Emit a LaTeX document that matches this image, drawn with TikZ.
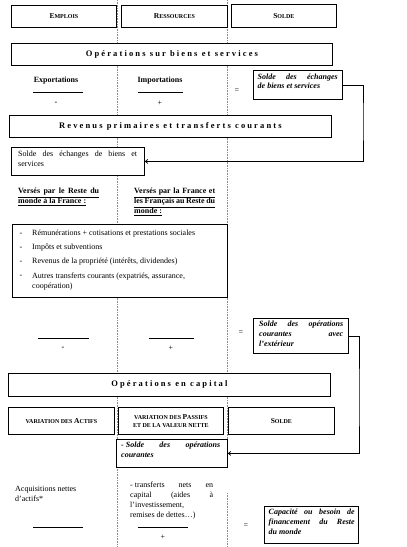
\documentclass[tikz,border=0pt]{standalone}
\usepackage{fontspec}
\setmainfont{Liberation Serif}
\usetikzlibrary{arrows.meta}
\newcommand\hdr[1]{{\fontsize{8.5}{10}\selectfont\bfseries\addfontfeature{LetterSpace=25}#1}}
\newcommand\capsm[1]{{\fontsize{6}{7}\selectfont #1}}
\newcommand\ulfull[1]{\underline{\makebox[81pt][s]{#1}}}
\tikzset{
  box/.style={draw, line width=0.8pt, fill=white, inner sep=0pt, anchor=north west},
  sep/.style={black!45, dash pattern=on 0.8pt off 0.8pt, line width=0.5pt},
  txt/.style={inner sep=0pt, font=\fontsize{8}{10}\selectfont},
  btxt/.style={inner sep=0pt, font=\fontsize{8}{10}\selectfont\bfseries},
  bitxt/.style={inner sep=0pt, font=\fontsize{8}{9.7}\selectfont\bfseries\itshape, align=justify},
  rule/.style={line width=0.7pt},
  conn/.style={line width=0.7pt},
  arr/.style={conn, -{Straight Barb[length=2.5pt,width=4pt]}},
  capt/.style={font=\fontsize{7.5}{8}\selectfont\bfseries, align=center}
}
\begin{document}
\begin{tikzpicture}[x=1pt,y=-1pt]
\useasboundingbox (0,0) rectangle (407,547);
% separators
\coordinate (s1t) at (117,0); \coordinate (s1b) at (117,547);
\coordinate (s2t) at (227,0); \coordinate (s2m) at (227,467);
\coordinate (s3t) at (227,493); \coordinate (s3b) at (227,547);
\draw[sep] (s1t) -- (s1b);
\draw[sep] (s2t) -- (s2m);
\draw[sep] (s3t) -- (s3b);
% top header boxes
\node[box, minimum width=105pt, minimum height=22.5pt, capt] (emp) at (11,4.5) {E\capsm{MPLOIS}};
\node[box, minimum width=106pt, minimum height=22.5pt, capt] (res) at (121,4.5) {R\capsm{ESSOURCES}};
\node[box, minimum width=105pt, minimum height=22.5pt, capt] (sol) at (231,4) {S\capsm{OLDE}};
% operations sur biens et services
\node[box, minimum width=321pt, minimum height=22pt] (obs) at (11,43) {\hdr{Opérations sur biens et services}};
\node[btxt] (ex) at (56,81) {Exportations};
\coordinate (exl) at (33,92); \coordinate (exr) at (83,92);
\draw[rule] (exl) -- (exr);
\node[btxt] (exm) at (56,103) {-};
\node[btxt] (im) at (160,81) {Importations};
\coordinate (iml) at (138,92); \coordinate (imr) at (183,92);
\draw[rule] (iml) -- (imr);
\node[txt] (imp) at (160,103) {+};
\node[txt] (eq1) at (237,91) {=};
\node[box, minimum width=89pt, minimum height=29pt] (sbs) at (253,70) {};
\node[bitxt, text width=80pt, anchor=north west] (sbst) at (257.5,73.5) {Solde des échanges\linebreak de biens et services};
% revenus primaires
\node[box, minimum width=322pt, minimum height=22pt] (rp) at (9,115) {\hdr{Revenus primaires et transferts courants}};
\node[box, minimum width=133pt, minimum height=28pt] (sebs) at (11,147) {};
\node[txt, text width=119pt, align=justify, anchor=north west] (sebst) at (18,151) {Solde des échanges de biens et\linebreak services};
\coordinate (t1) at (363,120);
\draw[arr] (sbs.east) -| (t1) |- (sebs.east);
\node[btxt, align=left, anchor=north west] (v1) at (18,188) {\ulfull{Versés par le Reste du}\\\underline{monde à la France :}};
\node[btxt, align=left, anchor=north west] (v2) at (134,188) {\ulfull{Versés par la France et}\\\ulfull{les Français au Reste du}\\\underline{monde :}};
\node[box, minimum width=215pt, minimum height=73pt] (lst) at (12,224) {};
\node[txt] (d1) at (21,234) {-};
\node[txt, anchor=west] (l1) at (32,234) {Rémunérations + cotisations et prestations sociales};
\node[txt] (d2) at (21,248) {-};
\node[txt, anchor=west] (l2) at (32,248) {Impôts et subventions};
\node[txt] (d3) at (21,262) {-};
\node[txt, anchor=west] (l3) at (32,262) {Revenus de la propriété (intérêts, dividendes)};
\node[txt] (d4) at (21,276) {-};
\node[txt, anchor=north west, align=left] (l4) at (32,272.5) {Autres transferts courants (expatriés, assurance,\\coopération)};
% solde des operations courantes
\coordinate (a1l) at (38,338); \coordinate (a1r) at (89,338);
\draw[rule] (a1l) -- (a1r);
\node[btxt] (a1m) at (63,348) {-};
\coordinate (a2l) at (149,338); \coordinate (a2r) at (194,338);
\draw[rule] (a2l) -- (a2r);
\node[txt] (a2p) at (171,348) {+};
\node[txt] (eq2) at (241,333) {=};
\node[box, minimum width=95pt, minimum height=35pt] (soc) at (253,318) {};
\node[bitxt, text width=84pt, anchor=north west] (soct) at (259,321) {Solde des opérations\linebreak courantes avec\linebreak l'extérieur};
% operations en capital
\node[box, minimum width=322pt, minimum height=23pt] (oc) at (8,373) {\hdr{Opérations en capital}};
\node[box, minimum width=106pt, minimum height=27pt, capt] (va) at (8,407) {\capsm{VARIATION DES }A\capsm{CTIFS}};
\node[box, minimum width=105pt, minimum height=27pt, capt] (vp) at (118,407) {\capsm{VARIATION DES }P\capsm{ASSIFS}\\[-0.5pt]\capsm{ET DE LA VALEUR NETTE}};
\node[box, minimum width=106pt, minimum height=27pt, capt] (s2) at (228,407) {S\capsm{OLDE}};
\node[box, minimum width=111pt, minimum height=28pt] (msoc) at (116,439) {};
\node[bitxt, text width=99pt, anchor=north west] (msoct) at (121,442) {\mbox{- Solde} des opérations\linebreak courantes};
\coordinate (t2) at (359,400);
\draw[arr] (soc.east) -| (t2) |- (msoc.east);
\node[txt, anchor=north west, align=left] (acq) at (15,486) {Acquisitions nettes\\d'actifs*};
\coordinate (b1l) at (33,527); \coordinate (b1r) at (83,527);
\draw[rule] (b1l) -- (b1r);
\node[txt, text width=83pt, align=justify, anchor=north west] (tr) at (130,482) {\mbox{- transferts} nets en\linebreak capital (aides à\linebreak l'investissement,\\remises de dettes…)};
\coordinate (b2l) at (138,527); \coordinate (b2r) at (188,527);
\draw[rule] (b2l) -- (b2r);
\node[txt] (b2p) at (163,537) {+};
\node[txt] (eq3) at (246,526) {=};
\node[box, minimum width=94pt, minimum height=37pt] (cap) at (264,506) {};
\node[bitxt, text width=86pt, anchor=north west] (capt) at (268.5,509) {Capacité ou besoin de\linebreak financement du Reste\linebreak du monde};
\end{tikzpicture}
\end{document}
